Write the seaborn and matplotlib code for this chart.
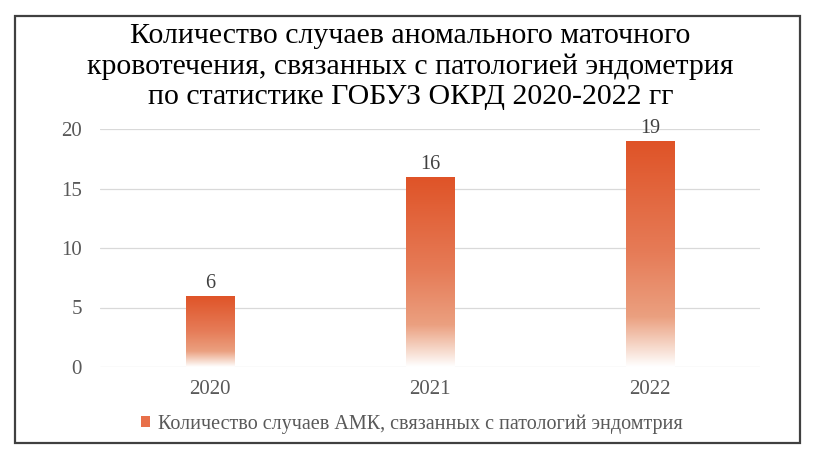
import numpy as np
import pandas as pd
import matplotlib
matplotlib.use("Agg")
import matplotlib.pyplot as plt
import seaborn as sns
from matplotlib.colors import LinearSegmentedColormap
from matplotlib.patches import Patch, Rectangle

years = ["2020", "2021", "2022"]
counts = [6, 16, 19]
series_name = "Количество случаев АМК, связанных с патологий эндомтрия"
title = ("Количество случаев аномального маточного\n"
         "кровотечения, связанных с патологией эндометрия\n"
         "по статистике ГОБУЗ ОКРД 2020-2022 гг")
yticks = [0, 5, 10, 15, 20]

df = pd.DataFrame({"year": years, "count": counts})

sns.set_theme(style="white")
plt.rcParams["font.family"] = ["Liberation Serif", "DejaVu Serif"]

fig = plt.figure(figsize=(8.16, 4.59), dpi=100)
ax = fig.add_axes([100/816, 92/459, 660/816, 238/459])

sns.barplot(data=df, x="year", y="count", ax=ax, width=0.22,
            color="#E05A30", saturation=1, zorder=2)

cmap = LinearSegmentedColormap.from_list(
    "grad",
    [(0.0, "#FFFFFF"), (0.08, "#F7DCCF"), (0.22, "#EBA080"),
     (0.5, "#E67C58"), (1.0, "#DF5327")])
grad = np.linspace(1, 0, 256).reshape(-1, 1)

ax.set_ylim(0, 20)
ax.set_xlim(-0.5, 2.5)
for p in list(ax.patches):
    x, y = p.get_x(), p.get_y()
    w, h = p.get_width(), p.get_height()
    im = ax.imshow(grad, cmap=cmap, extent=[x, x + w, y, y + h],
                   aspect="auto", zorder=3, interpolation="bilinear")
    im.set_clip_path(p)
    p.set_facecolor("none")
    p.set_edgecolor("none")
    ax.text(x + w/2, h + 0.25, f"{int(h)}", ha="center", va="bottom",
            fontsize=14.5, color="#404040", zorder=4)
ax.set_ylim(0, 20)
ax.set_xlim(-0.5, 2.5)

ax.set_yticks(yticks)
ax.yaxis.grid(True, color="#D9D9D9", linewidth=0.9, zorder=0)
ax.set_axisbelow(True)
for s in ax.spines.values():
    s.set_visible(False)
ax.tick_params(axis="both", length=0, labelsize=15, labelcolor="#595959")
ax.tick_params(axis="y", pad=13)
ax.tick_params(axis="x", pad=9)
ax.set_xlabel("")
ax.set_ylabel("")

fig.text(0.503, 1 - 23/459, title, ha="center", va="top", fontsize=21.5,
         color="black", linespacing=1.22)

handle = Patch(facecolor="#E8704A", edgecolor="none")
fig.legend([handle], [series_name], loc="center",
           bbox_to_anchor=(0.505, 1 - 424/459), frameon=False,
           fontsize=14.5, handlelength=0.45, handleheight=0.45,
           handletextpad=0.4, labelcolor="#595959")

fig.patches.append(Rectangle((15/816, 16/459), 785/816, 427/459,
                             transform=fig.transFigure, fill=False,
                             edgecolor="#404040", linewidth=1.6))

fig.savefig("out.png", dpi=100)
